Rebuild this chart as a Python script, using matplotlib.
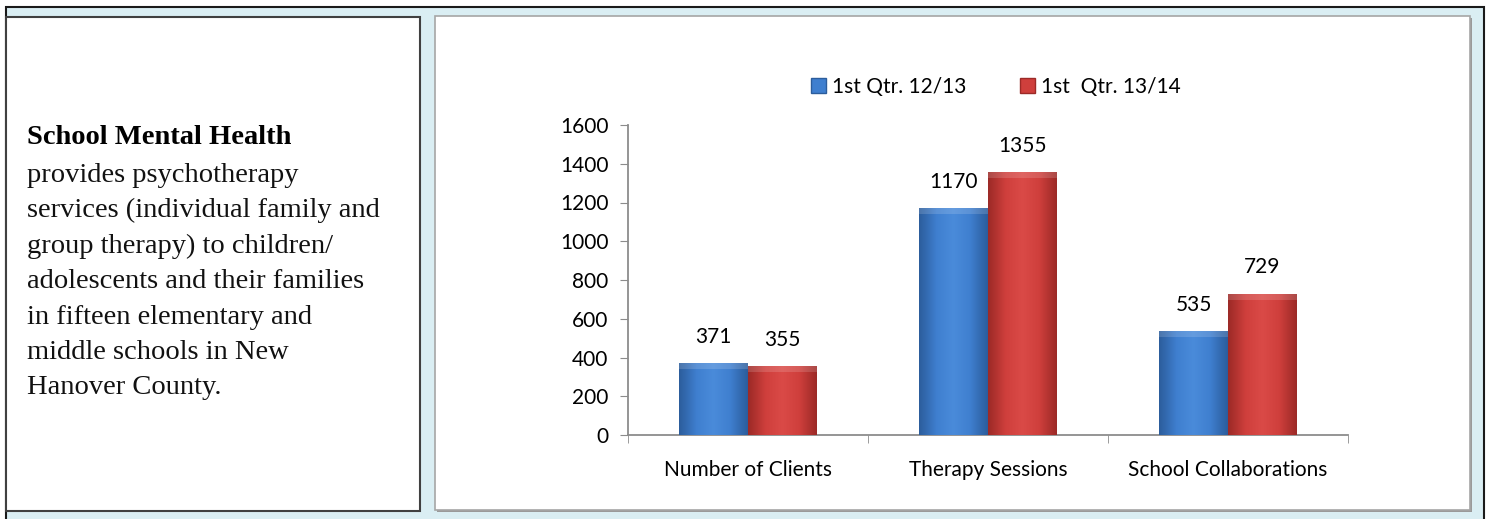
import numpy as np
import matplotlib.pyplot as plt
from matplotlib.patches import Rectangle
from matplotlib.colors import LinearSegmentedColormap

categories = ["Number of Clients", "Therapy Sessions", "School Collaborations"]
series_names = ["1st Qtr. 12/13", "1st  Qtr. 13/14"]
q1_1213 = [371, 1170, 535]
q1_1314 = [355, 1355, 729]
y_ticks = [0, 200, 400, 600, 800, 1000, 1200, 1400, 1600]

W, H = 1488, 519
fig = plt.figure(figsize=(W / 100, H / 100), dpi=100)
fig.patch.set_facecolor("white")


def px_rect(x0, y0, x1, y1, **kw):
    # rectangle given in pixel coords (origin top-left)
    return Rectangle((x0 / W, 1 - y1 / H), (x1 - x0) / W, (y1 - y0) / H,
                     transform=fig.transFigure, **kw)


# page background and frames
fig.patches.append(px_rect(5.5, 6.5, 1484, 530, facecolor="#DAEEF3",
                           edgecolor="#1a1a1a", linewidth=1.5))
fig.patches.append(px_rect(6.5, 16.5, 420, 511, facecolor="white",
                           edgecolor="#404040", linewidth=1.5))
fig.patches.append(px_rect(437, 18, 1472, 512, facecolor="#9a9a9a",
                           edgecolor="none"))
fig.patches.append(px_rect(435, 16, 1470, 510, facecolor="white",
                           edgecolor="#a6a6a6", linewidth=1.2))

# left description text
serif = ["Liberation Serif", "DejaVu Serif"]
fig.text(27 / W, 1 - 138 / H, "School Mental Health", family=serif,
         fontsize=20.5, fontweight="bold", va="center", ha="left")
body = ["provides psychotherapy",
        "services (individual family and",
        "group therapy) to children/",
        "adolescents and their families",
        "in fifteen elementary and",
        "middle schools in New",
        "Hanover County."]
for i, line in enumerate(body):
    fig.text(27 / W, 1 - (175 + i * 35.5) / H, line, family=serif,
             fontsize=20.5, va="center", ha="left", color="#111111")

# chart
sans = ["Lato", "DejaVu Sans"]
fs = 15
ax = fig.add_axes([628 / W, 1 - 435 / H, 720 / W, 310 / H])
ax.set_zorder(5)
ax.set_facecolor("none")
x = np.arange(len(categories))
bw = 0.2875

blue_cmap = LinearSegmentedColormap.from_list(
    "b", ["#2C5D9C", "#3F7FCF", "#4A8BDA", "#3F7FCF", "#2C5D9C"])
red_cmap = LinearSegmentedColormap.from_list(
    "r", ["#9C2A27", "#CF3F3C", "#DA4A47", "#CF3F3C", "#9C2A27"])

grad = np.linspace(0, 1, 64).reshape(1, -1)
for vals, off, cmap, base in [(q1_1213, -bw / 2, blue_cmap, "#3F7FCF"),
                              (q1_1314, bw / 2, red_cmap, "#CF3F3C")]:
    bars = ax.bar(x + off, vals, bw, color=base, edgecolor="none", zorder=2)
    for b in bars:
        im = ax.imshow(grad, cmap=cmap, aspect="auto", zorder=3,
                       extent=[b.get_x(), b.get_x() + b.get_width(), 0, b.get_height()])
        im.set_clip_path(b)
        # bevel top strip
        ax.add_patch(Rectangle((b.get_x(), b.get_height() - 30), b.get_width(), 30,
                               facecolor="white", alpha=0.15, edgecolor="none", zorder=4))
    for xi, v in zip(x + off, vals):
        ax.text(xi, v + 85, str(v), ha="center", va="bottom", fontsize=fs,
                family=sans, color="black")

ax.set_xlim(-0.5, len(categories) - 0.5)
ax.set_ylim(0, 1600)
ax.set_yticks(y_ticks)
ax.set_yticklabels([str(t) for t in y_ticks], family=sans, fontsize=fs)
ax.set_xticks(x)
ax.set_xticklabels(categories, family=sans, fontsize=fs)
ax.tick_params(axis="x", length=0, pad=18)
ax.set_xticks(np.arange(-0.5, len(categories)), minor=True)
ax.tick_params(axis="x", which="minor", length=6, color="#8c8c8c")
ax.tick_params(axis="y", length=6, color="#8c8c8c", pad=8)
for s in ["top", "right"]:
    ax.spines[s].set_visible(False)
for s in ["left", "bottom"]:
    ax.spines[s].set_color("#8c8c8c")
    ax.spines[s].set_linewidth(1.3)

# legend
handles = [Rectangle((0, 0), 1, 1, facecolor="#3F7FCF", edgecolor="#2C5D9C"),
           Rectangle((0, 0), 1, 1, facecolor="#CF3F3C", edgecolor="#9C2A27")]
leg = fig.legend(handles, series_names, loc="center", ncol=2, frameon=False,
                 bbox_to_anchor=(996 / W, 1 - 87 / H), prop={"family": sans, "size": fs},
                 handlelength=0.7, handleheight=0.7, handletextpad=0.3, columnspacing=2.6)
leg.set_zorder(6)

fig.savefig("out.png", dpi=100)
